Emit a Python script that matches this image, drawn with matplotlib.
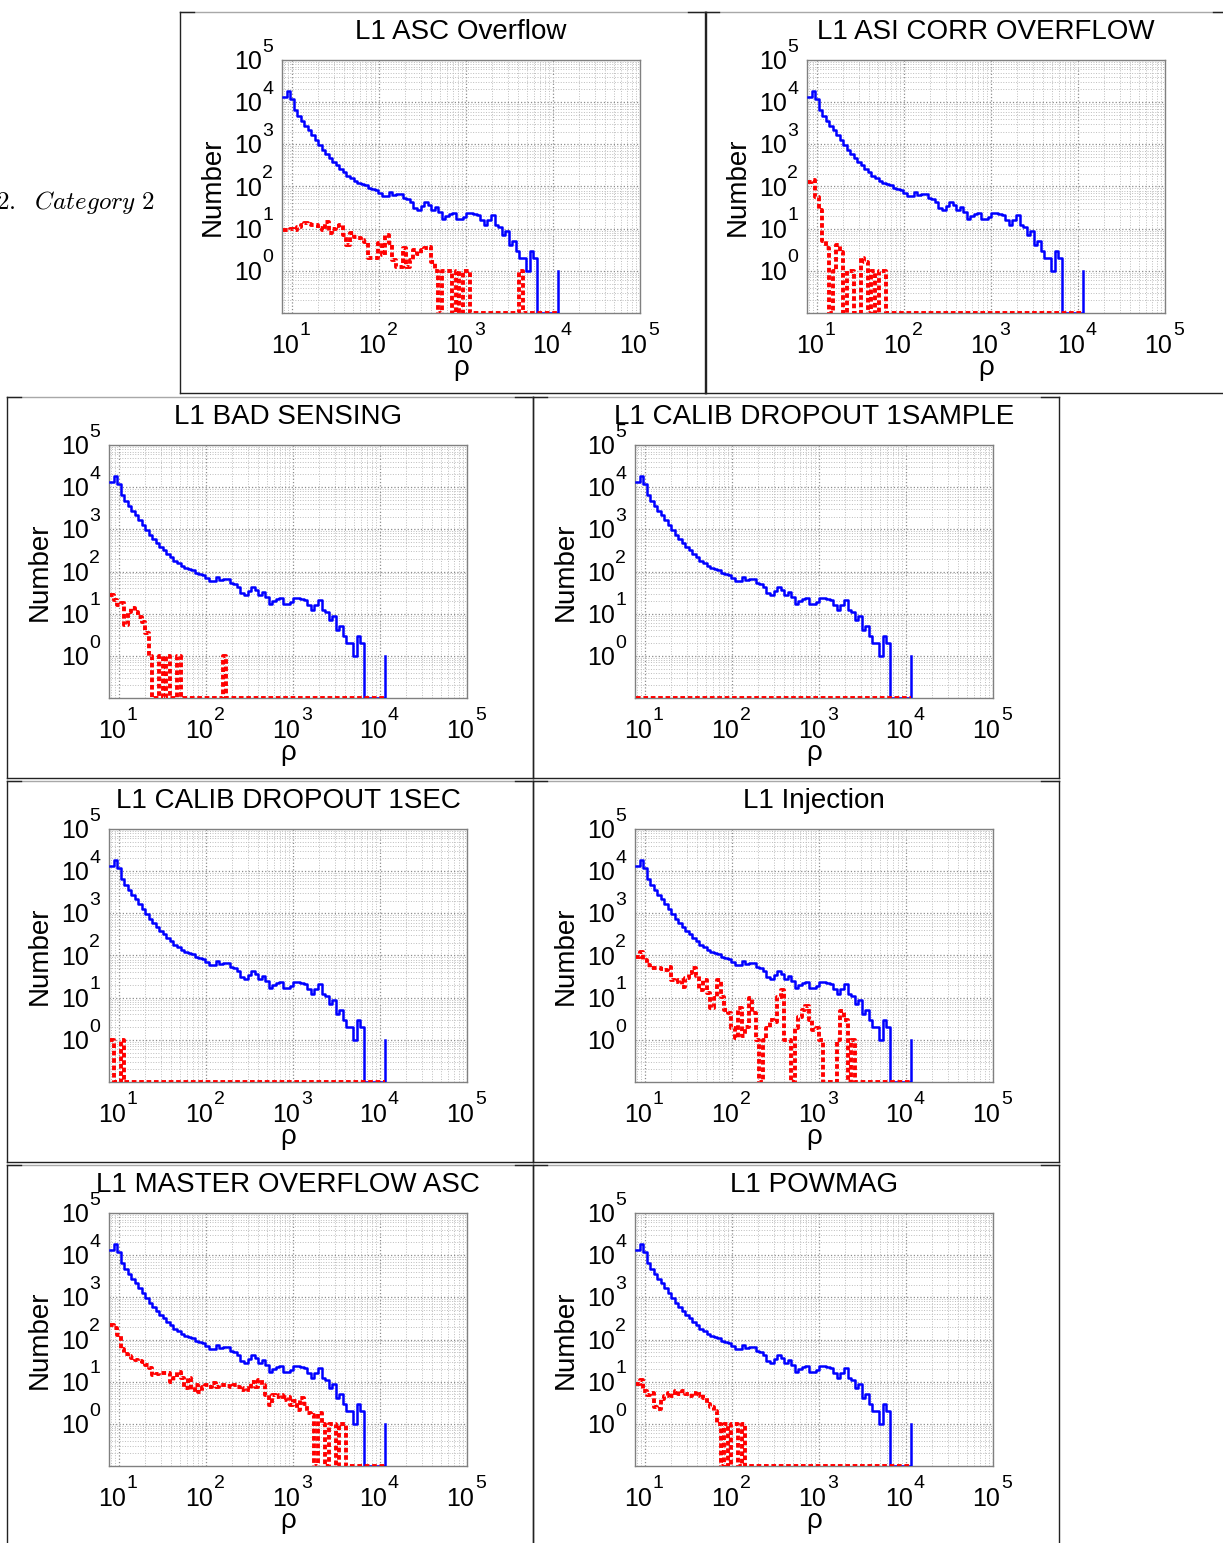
import numpy as np
import matplotlib.pyplot as plt
import matplotlib.transforms as mtransforms
from matplotlib.lines import Line2D
from matplotlib.ticker import FixedLocator, LogLocator, NullFormatter

plt.rcParams['font.family'] = ['Liberation Sans', 'DejaVu Sans']

# rho histogram bins (log spaced), shared by every panel
rho = np.logspace(0.897, 4.057, 79)

# all triggers, before any veto
all_counts = [13200, 18000, 12000, 6500, 4700, 3550, 2700, 2170, 1660, 1260,
              960, 735, 590, 475, 385, 325, 263, 220, 178, 160,
              135, 121, 115, 109, 92, 87, 83, 71, 60, 60,
              74, 63, 66, 66, 53, 50, 43, 31, 28, 35,
              43, 36, 28, 32, 25, 17, 20, 22, 24, 17,
              17, 19, 24, 24, 22, 21, 16, 12, 16, 21,
              12, 11, 7, 9, 4, 5, 3, 2, 2, 1,
              3, 2, 0, 0, 0, 0, 0, 0, 1]

titles = ["L1 ASC Overflow", "L1 ASI CORR OVERFLOW", "L1 BAD SENSING",
          "L1 CALIB DROPOUT 1SAMPLE", "L1 CALIB DROPOUT 1SEC", "L1 Injection",
          "L1 MASTER OVERFLOW ASC", "L1 POWMAG"]

# triggers removed by each flag
asc_overflow = [9.3, 9.5, 9.8, 9.3, 11, 12, 13.6, 13, 12, 12,
                10.4, 9.3, 14.4, 8, 10, 11.5, 12, 7, 4, 8,
                6.3, 6, 5.5, 4.8, 2, 2, 2, 4.5, 2.4, 7,
                4.5, 1.8, 1.2, 1.2, 3.5, 1.2, 1.8, 3.1, 2.5, 3.1,
                3.5, 3.7, 1.6, 1, 0, 1, 1, 1, 0, 1,
                0, 1, 1, 0, 0, 0, 0, 0, 0, 0,
                0, 0, 0, 0, 0, 0, 0, 1, 0, 0,
                0, 0, 0, 0, 0, 0, 0, 0, 0]
asi_corr_overflow = [130, 142, 57, 28, 5, 3.5, 0, 1, 4, 2.8,
                     0, 1, 1, 0, 0, 2, 1.6, 0, 1, 0,
                     1, 1, 0, 0, 0, 0, 0, 0, 0, 0,
                     0, 0, 0, 0, 0, 0, 0, 0, 0, 0,
                     0, 0, 0, 0, 0, 0, 0, 0, 0, 0,
                     0, 0, 0, 0, 0, 0, 0, 0, 0, 0,
                     0, 0, 0, 0, 0, 0, 0, 0, 0, 0,
                     0, 0, 0, 0, 0, 0, 0, 0, 0]
bad_sensing = [27, 21, 16, 18, 5.4, 11, 13.5, 11, 8.5, 6.5,
               3.5, 1, 0, 0, 1, 0, 1, 0, 0, 1,
               0, 0, 0, 0, 0, 0, 0, 0, 0, 0,
               0, 0, 1, 0, 0, 0, 0, 0, 0, 0,
               0, 0, 0, 0, 0, 0, 0, 0, 0, 0,
               0, 0, 0, 0, 0, 0, 0, 0, 0, 0,
               0, 0, 0, 0, 0, 0, 0, 0, 0, 0,
               0, 0, 0, 0, 0, 0, 0, 0, 0]
calib_dropout_1sample = [0, 0, 0, 0, 0, 0, 0, 0, 0, 0,
                         0, 0, 0, 0, 0, 0, 0, 0, 0, 0,
                         0, 0, 0, 0, 0, 0, 0, 0, 0, 0,
                         0, 0, 0, 0, 0, 0, 0, 0, 0, 0,
                         0, 0, 0, 0, 0, 0, 0, 0, 0, 0,
                         0, 0, 0, 0, 0, 0, 0, 0, 0, 0,
                         0, 0, 0, 0, 0, 0, 0, 0, 0, 0,
                         0, 0, 0, 0, 0, 0, 0, 0, 0]
calib_dropout_1sec = [1, 0, 0, 1, 0, 0, 0, 0, 0, 0,
                      0, 0, 0, 0, 0, 0, 0, 0, 0, 0,
                      0, 0, 0, 0, 0, 0, 0, 0, 0, 0,
                      0, 0, 0, 0, 0, 0, 0, 0, 0, 0,
                      0, 0, 0, 0, 0, 0, 0, 0, 0, 0,
                      0, 0, 0, 0, 0, 0, 0, 0, 0, 0,
                      0, 0, 0, 0, 0, 0, 0, 0, 0, 0,
                      0, 0, 0, 0, 0, 0, 0, 0, 0]
injection = [93, 123, 78, 59, 50, 50, 50, 48, 45, 54,
             26, 24, 26, 18, 29, 39, 50, 32, 15, 26,
             13, 5.8, 9.8, 26, 10.5, 5.2, 4.4, 1.9, 1.1, 5.8,
             1.2, 2, 9.8, 4.4, 1, 0, 1, 1.9, 3, 2.7,
             10.5, 15, 1, 1, 0, 1.9, 3.5, 5.2, 6.2, 3,
             1.7, 1.9, 1, 0, 0, 0, 0, 1, 4.7, 3,
             0, 1, 0, 0, 0, 0, 0, 0, 0, 0,
             0, 0, 0, 0, 0, 0, 0, 0, 0]
master_overflow_asc = [218, 185, 129, 60, 45, 40, 36, 32, 31, 30,
                       25, 21, 14.5, 15, 16, 16, 16, 10, 12, 17,
                       12, 7, 12.5, 6.3, 8.3, 5.8, 7.6, 8.3, 7.6, 9.1,
                       7.6, 8.3, 8.3, 8, 7.6, 8.3, 7.6, 6.3, 7, 6.5,
                       10, 7.6, 11, 8.3, 4.8, 2.8, 4.8, 4.4, 4.8, 3.7,
                       4.4, 2.8, 3.4, 2.1, 4.1, 3, 1.8, 1.6, 0, 1.8,
                       1, 0, 1, 1, 0, 1, 1, 0, 0, 0,
                       0, 0, 0, 0, 0, 0, 0, 0, 0]
powmag = [9, 11, 6, 4.8, 5.5, 2.5, 2.2, 3.8, 4.5, 5.5,
          4.5, 6, 5, 6, 5, 4.5, 5.5, 4.5, 5, 4,
          3, 2.5, 2, 1, 0, 1, 0, 1, 1, 0,
          1, 0, 0, 0, 0, 0, 0, 0, 0, 0,
          0, 0, 0, 0, 0, 0, 0, 0, 0, 0,
          0, 0, 0, 0, 0, 0, 0, 0, 0, 0,
          0, 0, 0, 0, 0, 0, 0, 0, 0, 0,
          0, 0, 0, 0, 0, 0, 0, 0, 0]

vetoed = [asc_overflow, asi_corr_overflow, bad_sensing, calib_dropout_1sample,
          calib_dropout_1sec, injection, master_overflow_asc, powmag]

W, H = 1223, 1543
fig = plt.figure(figsize=(W / 100, H / 100), dpi=100)
# pixel coordinates, origin top-left
px = mtransforms.Affine2D().scale(1 / W, -1 / H).translate(0, 1) + fig.transFigure

# top-left corner of each framed sub-figure
frames = [(180, 12), (705, 12), (7, 397), (533, 397),
          (7, 781), (533, 781), (7, 1165), (533, 1165)]
FRAME_W, FRAME_H = 526, 381
Y_FLOOR = 0.1


def draw_frame(x0, y0):
    x1, y1 = x0 + FRAME_W, y0 + FRAME_H
    segs = [([x0, x1], [y0, y0], '#a8a8a8'),
            ([x0, x0 + 14], [y0, y0], '#222222'),
            ([x1 - 18, x1], [y0, y0], '#222222'),
            ([x0, x0], [y0, y1], '#222222'),
            ([x1, x1], [y0, y1], '#222222'),
            ([x0, x1], [y1, y1], '#222222')]
    for xs, ys, c in segs:
        fig.add_artist(Line2D(xs, ys, transform=px, color=c, lw=1.0))


def decade_labels(ax, xdecades, ydecades):
    # "10" plus a raised exponent for each decade
    for k in xdecades:
        pos = dict(xy=(10.0 ** k, 0), xycoords=('data', 'axes fraction'),
                   textcoords='offset points', va='baseline', annotation_clip=False)
        ax.annotate('10', xytext=(5.2, -28.8), ha='right', fontsize=18, **pos)
        ax.annotate(str(k), xytext=(5.6, -16.0), ha='left', fontsize=14, **pos)
    for k in ydecades:
        pos = dict(xy=(0, 10.0 ** k), xycoords=('axes fraction', 'data'),
                   textcoords='offset points', va='baseline', annotation_clip=False)
        ax.annotate('10', xytext=(-14.6, -6.5), ha='right', fontsize=18, **pos)
        ax.annotate(str(k), xytext=(-14.2, 6.0), ha='left', fontsize=14, **pos)


xdec = [1, 2, 3, 4, 5]
ydec = [0, 1, 2, 3, 4, 5]

for (x0, y0), title, red in zip(frames, titles, vetoed):
    draw_frame(x0, y0)
    ax = fig.add_axes([(x0 + 102) / W, 1 - (y0 + 48 + 253) / H, 358 / W, 253 / H])
    ax.set_xscale('log')
    ax.set_yscale('log')

    blue = np.array(all_counts, dtype=float)
    red = np.array(red, dtype=float)
    ax.step(rho, np.where(blue > 0, blue, Y_FLOOR), where='post',
            color='#0000ff', lw=1.8, zorder=3)
    ax.step(rho, np.where(red > 0, red, Y_FLOOR), where='post',
            color='#ff0000', lw=2.8, ls=(0, (1.2, 0.7)), zorder=4)

    ax.set_xlim(10 ** 0.885, 1e5)
    ax.set_ylim(Y_FLOOR, 1e5)

    ax.xaxis.set_major_locator(FixedLocator([10.0 ** k for k in xdec]))
    ax.yaxis.set_major_locator(FixedLocator([10.0 ** k for k in ydec]))
    for axis in (ax.xaxis, ax.yaxis):
        axis.set_major_formatter(NullFormatter())
        axis.set_minor_locator(LogLocator(base=10, subs=np.arange(2, 10), numticks=30))
        axis.set_minor_formatter(NullFormatter())
    ax.grid(True, which='major', ls=':', color='#8c8c8c', lw=0.9)
    ax.grid(True, which='minor', ls=':', color='#bdbdbd', lw=0.7)
    ax.set_axisbelow(True)
    ax.tick_params(which='both', length=0)
    for sp in ax.spines.values():
        sp.set_color('#808080')
        sp.set_linewidth(1.0)
    decade_labels(ax, xdec, ydec)

    ax.text(0.5, 1 + 21 / 253, title, transform=ax.transAxes,
            ha='center', va='baseline', fontsize=20)
    ax.text(-69 / 358, 0.5, 'Number', transform=ax.transAxes, rotation=90,
            ha='center', va='center', fontsize=20)
    ax.text(0.5, -55 / 253, 'ρ', transform=ax.transAxes,
            ha='center', va='center', fontsize=20)

fig.text(154 / W, 1 - 209 / H, r'$\mathit{2.\ \ Category\ 2}$', math_fontfamily='cm',
         ha='right', va='baseline', fontsize=18)

fig.savefig('out.png', dpi=100)
